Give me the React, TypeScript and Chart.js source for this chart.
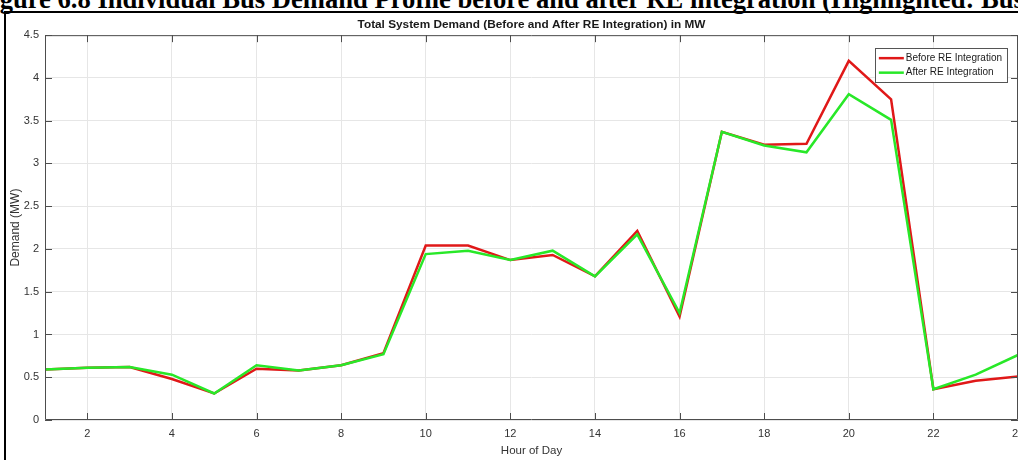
import React, { useEffect, useRef } from "react";
import { Chart, registerables } from "chart.js";

Chart.register(...registerables);

const HOURS = [1, 2, 3, 4, 5, 6, 7, 8, 9, 10, 11, 12, 13, 14, 15, 16, 17, 18, 19, 20, 21, 22, 23, 24];
const BEFORE_RE = [0.59, 0.61, 0.62, 0.48, 0.31, 0.60, 0.58, 0.64, 0.78, 2.04, 2.04, 1.87, 1.93, 1.68, 2.21, 1.21, 3.37, 3.22, 3.23, 4.20, 3.75, 0.36, 0.46, 0.51];
const AFTER_RE = [0.59, 0.61, 0.62, 0.53, 0.31, 0.64, 0.58, 0.64, 0.77, 1.94, 1.98, 1.87, 1.98, 1.68, 2.17, 1.25, 3.37, 3.21, 3.13, 3.81, 3.51, 0.36, 0.53, 0.76];
const X_TICKS = [2, 4, 6, 8, 10, 12, 14, 16, 18, 20, 22, 24];
const SERIES_LABELS = ["Before RE Integration", "After RE Integration"];
const SERIES_COLORS = ["#e01818", "#28e828"];

const FONT = "'Liberation Sans', Arial, sans-serif";

const matlabBox = {
  id: "matlabBox",
  afterDraw(chart: any) {
    const { ctx, chartArea } = chart;
    const { left, right, top, bottom } = chartArea;
    const xs = chart.scales.x;
    const ys = chart.scales.y;
    ctx.save();
    ctx.strokeStyle = "#4d4d4d";
    ctx.lineWidth = 1;
    ctx.beginPath();
    ctx.rect(left + 0.5, top + 0.5, right - left - 1, bottom - top - 1);
    const tl = 7;
    xs.ticks.forEach((t: any) => {
      const px = Math.round(xs.getPixelForValue(t.value)) + 0.5;
      ctx.moveTo(px, bottom);
      ctx.lineTo(px, bottom - tl);
      ctx.moveTo(px, top);
      ctx.lineTo(px, top + tl);
    });
    ys.ticks.forEach((t: any) => {
      const py = Math.round(ys.getPixelForValue(t.value)) + 0.5;
      ctx.moveTo(left, py);
      ctx.lineTo(left + tl, py);
      ctx.moveTo(right, py);
      ctx.lineTo(right - tl, py);
    });
    ctx.stroke();

    // legend inside the axes (north-east)
    ctx.font = `10px ${FONT}`;
    const datasets = chart.data.datasets;
    let tw = 0;
    datasets.forEach((d: any) => {
      tw = Math.max(tw, ctx.measureText(d.label).width);
    });
    const lineLen = 25;
    const boxW = 4 + lineLen + 2 + tw + 5;
    const rowH = 14.5;
    const boxH = rowH * datasets.length + 5;
    const bx = right - 11 - boxW;
    const by = top + 13;
    ctx.fillStyle = "#ffffff";
    ctx.fillRect(bx, by, boxW, boxH);
    ctx.strokeStyle = "#555555";
    ctx.strokeRect(Math.round(bx) + 0.5, Math.round(by) + 0.5, Math.round(boxW), Math.round(boxH));
    datasets.forEach((d: any, i: number) => {
      const cy = by + 10 + i * rowH;
      ctx.strokeStyle = d.borderColor;
      ctx.lineWidth = 2.5;
      ctx.beginPath();
      ctx.moveTo(bx + 4, cy);
      ctx.lineTo(bx + 4 + lineLen, cy);
      ctx.stroke();
      ctx.fillStyle = "#1a1a1a";
      ctx.textBaseline = "middle";
      ctx.textAlign = "left";
      ctx.fillText(d.label, bx + 4 + lineLen + 2, cy);
    });
    ctx.restore();
  },
};

export default function App() {
  const canvasRef = useRef<HTMLCanvasElement | null>(null);

  useEffect(() => {
    if (!canvasRef.current) return;
    const chart = new Chart(canvasRef.current, {
      type: "line",
      data: {
        datasets: [
          {
            label: SERIES_LABELS[0],
            data: HOURS.map((h, i) => ({ x: h, y: BEFORE_RE[i] })),
            borderColor: SERIES_COLORS[0],
            backgroundColor: SERIES_COLORS[0],
            borderWidth: 2.5,
            pointRadius: 0,
            tension: 0,
            order: 2,
          },
          {
            label: SERIES_LABELS[1],
            data: HOURS.map((h, i) => ({ x: h, y: AFTER_RE[i] })),
            borderColor: SERIES_COLORS[1],
            backgroundColor: SERIES_COLORS[1],
            borderWidth: 2.5,
            pointRadius: 0,
            tension: 0,
            order: 1,
          },
        ],
      },
      options: {
        responsive: false,
        animation: false,
        layout: { padding: { left: 0, right: 22, top: 0, bottom: 0 } },
        plugins: {
          legend: { display: false },
          tooltip: { enabled: false },
          title: {
            display: true,
            fullSize: false,
            text: "Total System Demand (Before and After RE Integration) in MW",
            color: "#1a1a1a",
            font: { family: FONT, size: 11.8, weight: "bold", lineHeight: 1.2 },
            padding: { top: 18, bottom: 3 },
          },
        },
        scales: {
          x: {
            type: "linear",
            min: 1,
            max: 24,
            afterBuildTicks: (scale: any) => {
              scale.ticks = X_TICKS.map((v) => ({ value: v }));
            },
            afterFit: (scale: any) => {
              scale.height = 40;
            },
            grid: { color: "#e6e6e6", drawTicks: false },
            border: { display: false },
            ticks: {
              color: "#333333",
              font: { family: FONT, size: 11 },
              padding: 7,
              maxRotation: 0,
              autoSkip: false,
            },
            title: {
              display: true,
              text: "Hour of Day",
              color: "#333333",
              font: { family: FONT, size: 11.5 },
              padding: { top: 0, bottom: 2 },
            },
          },
          y: {
            min: 0,
            max: 4.5,
            afterFit: (scale: any) => {
              scale.width = 45;
            },
            grid: { color: "#e6e6e6", drawTicks: false },
            border: { display: false },
            ticks: {
              stepSize: 0.5,
              color: "#333333",
              font: { family: FONT, size: 11 },
              padding: 6,
              callback: (v: any) => String(Number(v)),
            },
            title: {
              display: true,
              text: "Demand (MW)",
              color: "#333333",
              font: { family: FONT, size: 12 },
              padding: { top: 8, bottom: 0 },
            },
          },
        },
      },
      plugins: [matlabBox],
    });
    return () => chart.destroy();
  }, []);

  return (
    <div
      style={{
        position: "absolute",
        left: 0,
        top: 0,
        width: 1018,
        height: 460,
        overflow: "hidden",
        background: "#ffffff",
      }}
    >
      <div
        style={{
          position: "absolute",
          left: -24,
          top: -16,
          whiteSpace: "nowrap",
          fontFamily: "'Liberation Serif', 'Times New Roman', serif",
          fontWeight: "bold",
          fontSize: 26.6,
          lineHeight: "30px",
          color: "#000",
        }}
      >
        Figure 6.8 Individual Bus Demand Profile before and after RE integration (Highlighted: Bus 1)
      </div>
      <div
        style={{
          position: "absolute",
          left: 4,
          top: 11,
          width: 1200,
          height: 600,
          border: "2px solid #000",
        }}
      />
      <canvas
        ref={canvasRef}
        width={1040}
        height={460}
        style={{ position: "absolute", left: 0, top: 0, width: 1040, height: 460 }}
      />
    </div>
  );
}
